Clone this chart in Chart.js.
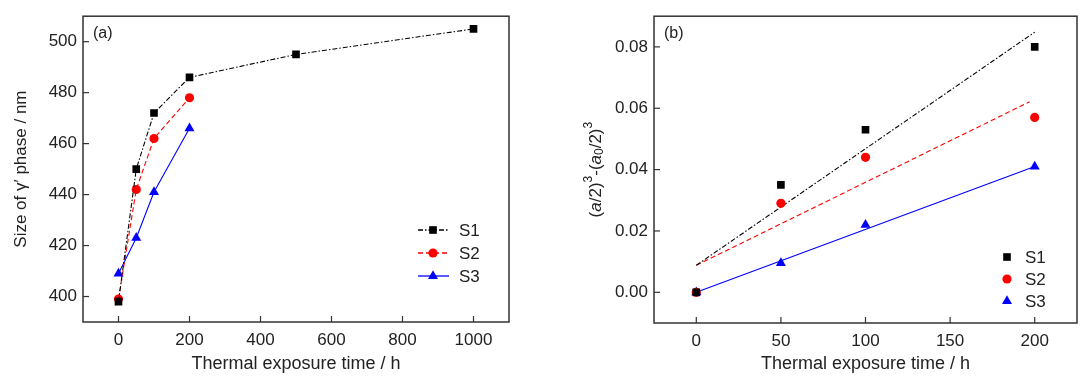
<!DOCTYPE html>
<html>
<head>
<meta charset="utf-8">
<script src="https://cdn.jsdelivr.net/npm/chart.js@4.4.1/dist/chart.umd.min.js"></script>
<style>
  html,body{margin:0;padding:0;background:#fff;}
  #wrap{position:relative;width:1085px;height:380px;overflow:hidden;}
  .panel{position:absolute;top:0;height:380px;}
</style>
</head>
<body>
<div id="wrap">
  <div class="panel" style="left:0;width:525px;"><canvas id="cA"></canvas></div>
  <div class="panel" style="left:555px;width:530px;"><canvas id="cB"></canvas></div>
</div>
<script>
// ---------- data: panel (a) ----------
const xA1 = [0, 50, 100, 200, 500, 1000];
const s1A = [398, 450, 472, 486, 495, 505];
const xA23 = [0, 50, 100, 200];
const s2A = [399, 442, 462, 478];
const s3A = [409, 423, 441, 466];
const xTicksA = [0, 200, 400, 600, 800, 1000];
const yTicksA = [400, 420, 440, 460, 480, 500];

// ---------- data: panel (b) ----------
const xB = [0, 50, 100, 200];
const s1B = [0, 0.035, 0.053, 0.080];
const s2B = [0, 0.029, 0.044, 0.057];
const s3B = [0, 0.0095, 0.022, 0.041];
const fit1X = [0, 200];
const fit1 = [0.0088, 0.0848];
const fit2X = [0, 197];
const fit2 = [0.0088, 0.0621];
const fit3X = [0, 200];
const fit3 = [0, 0.041];
const xTicksB = [0, 50, 100, 150, 200];
const yTicksB = [0, 0.02, 0.04, 0.06, 0.08];

const seriesNames = ['S1', 'S2', 'S3'];
const colors = ['#000000', '#ff0000', '#0000ff'];
const dashes = [[5, 2, 1.5, 2], [5, 3], []];
const shapes = ['rect', 'circle', 'triangle'];
const radii = [5.4, 4.6, 5.8];

const FONT = "'Liberation Sans', Arial, sans-serif";
const TXT = '#222';

function pts(xs, ys) { return xs.map((x, i) => ({x: x, y: ys[i]})); }

// frame + inward ticks + panel label + legend
function makePlugin(panelLabel, legendCfg) {
  return {
    id: 'deco',
    afterDraw(chart) {
      const ctx = chart.ctx, a = chart.chartArea;
      const xs = chart.scales.x, ys = chart.scales.y;
      ctx.save();
      ctx.strokeStyle = '#333';
      ctx.lineWidth = 1.5;
      ctx.setLineDash([]);
      ctx.strokeRect(a.left, a.top, a.right - a.left, a.bottom - a.top);
      ctx.lineWidth = 1.2;
      const tl = 6;
      xs.ticks.forEach(t => {
        const px = xs.getPixelForValue(t.value);
        ctx.beginPath(); ctx.moveTo(px, a.bottom); ctx.lineTo(px, a.bottom - tl); ctx.stroke();
      });
      ys.ticks.forEach(t => {
        const py = ys.getPixelForValue(t.value);
        ctx.beginPath(); ctx.moveTo(a.left, py); ctx.lineTo(a.left + tl, py); ctx.stroke();
      });
      // panel label
      ctx.fillStyle = TXT;
      ctx.font = '16px ' + FONT;
      ctx.textBaseline = 'middle';
      ctx.textAlign = 'left';
      ctx.fillText(panelLabel, a.left + 10, a.top + 17);
      // legend
      const L = legendCfg;
      for (let i = 0; i < 3; i++) {
        const ds = chart.data.datasets[i];
        const y = L.y0 + i * L.dy;
        if (L.withLine) {
          ctx.strokeStyle = ds.borderColor;
          ctx.lineWidth = 1.3;
          ctx.setLineDash(ds.borderDash || []);
          ctx.beginPath(); ctx.moveTo(L.lx0, y); ctx.lineTo(L.lx1, y); ctx.stroke();
          ctx.setLineDash([]);
        }
        drawMarker(ctx, ds.pointStyle, L.mx, y, ds.pointRadius, ds.backgroundColor);
        ctx.fillStyle = TXT;
        ctx.font = '17px ' + FONT;
        ctx.textAlign = 'left';
        ctx.fillText(ds.label, L.tx, y + 1);
      }
      ctx.restore();
    }
  };
}

function drawMarker(ctx, style, x, y, r, color) {
  ctx.save();
  ctx.fillStyle = color;
  ctx.beginPath();
  if (style === 'rect') {
    const s = Math.SQRT1_2 * r;
    ctx.rect(x - s, y - s, 2 * s, 2 * s);
  } else if (style === 'circle') {
    ctx.arc(x, y, r, 0, Math.PI * 2);
  } else {
    ctx.moveTo(x, y - r);
    ctx.lineTo(x + r * Math.cos(Math.PI / 6), y + r / 2);
    ctx.lineTo(x - r * Math.cos(Math.PI / 6), y + r / 2);
    ctx.closePath();
  }
  ctx.fill();
  ctx.restore();
}

// rich y title for panel (b)
const richTitle = {
  id: 'richTitle',
  afterDraw(chart) {
    const ctx = chart.ctx, a = chart.chartArea;
    const parts = [
      ['(', 'n'], ['a', 'i'], ['/2)', 'n'], ['3', 'sup'], ['-(', 'n'], ['a', 'i'], ['0', 'sub'], ['/2)', 'n'], ['3', 'sup']
    ];
    const fontOf = k => k === 'i' ? 'italic 17px ' + FONT : (k === 'n' ? '17px ' + FONT : '12px ' + FONT);
    ctx.save();
    let total = 0;
    parts.forEach(p => { ctx.font = fontOf(p[1]); total += ctx.measureText(p[0]).width; });
    ctx.translate(41, (a.top + a.bottom) / 2);
    ctx.rotate(-Math.PI / 2);
    ctx.fillStyle = TXT;
    ctx.textBaseline = 'middle';
    ctx.textAlign = 'left';
    let x = -total / 2;
    parts.forEach(p => {
      ctx.font = fontOf(p[1]);
      const dy = p[1] === 'sup' ? -7 : (p[1] === 'sub' ? 4 : 0);
      ctx.fillText(p[0], x, dy);
      x += ctx.measureText(p[0]).width;
    });
    ctx.restore();
  }
};

function baseDs(i, data, showLine) {
  return {
    label: seriesNames[i],
    data: data,
    borderColor: colors[i],
    backgroundColor: colors[i],
    borderWidth: 1.1,
    borderDash: dashes[i],
    pointStyle: shapes[i],
    pointRadius: radii[i],
    pointHoverRadius: radii[i],
    pointBorderWidth: 0,
    showLine: showLine,
    order: 1
  };
}
function fitDs(i, data) {
  return {
    label: seriesNames[i] + ' fit',
    data: data,
    borderColor: colors[i],
    backgroundColor: colors[i],
    borderWidth: 1.1,
    borderDash: dashes[i],
    pointRadius: 0,
    showLine: true,
    order: 5
  };
}

function axisCfg(min, max, ticksArr, fmt, fixSize, horiz, titleText, titlePad, titleSize) {
  return {
    type: 'linear',
    min: min, max: max,
    afterBuildTicks: s => { s.ticks = ticksArr.map(v => ({value: v})); },
    afterFit: s => { if (horiz) s.height = fixSize; else s.width = fixSize; },
    grid: {display: false, drawTicks: false},
    border: {display: false},
    ticks: {
      color: TXT, font: {family: FONT, size: 17}, padding: horiz ? 8 : 6,
      callback: v => fmt(v), maxRotation: 0, autoSkip: false
    },
    title: titleText ? {display: true, text: titleText, color: TXT, font: {family: FONT, size: titleSize}, padding: titlePad} : {display: false}
  };
}

Chart.defaults.animation = false;

new Chart(document.getElementById('cA'), {
  type: 'scatter',
  data: {
    datasets: [
      baseDs(0, pts(xA1, s1A), true),
      baseDs(1, pts(xA23, s2A), true),
      baseDs(2, pts(xA23, s3A), true)
    ]
  },
  options: {
    responsive: true, maintainAspectRatio: false, animation: false,
    layout: {padding: {left: 0, top: 7, right: 16, bottom: 0}},
    plugins: {legend: {display: false}, tooltip: {enabled: false}},
    scales: {
      x: axisCfg(-100, 1100, xTicksA, v => String(v), 58, true, 'Thermal exposure time / h', {top: 0, bottom: 5}, 18),
      y: axisCfg(390, 510, yTicksA, v => String(v), 83, false, 'Size of γ′ phase / nm', {top: 11, bottom: 0}, 17)
    }
  },
  plugins: [makePlugin('(a)', {withLine: true, y0: 230, dy: 23, lx0: 418, lx1: 449, mx: 433, tx: 459})]
});

new Chart(document.getElementById('cB'), {
  type: 'scatter',
  data: {
    datasets: [
      baseDs(0, pts(xB, s1B), false),
      baseDs(1, pts(xB, s2B), false),
      baseDs(2, pts(xB, s3B), false),
      fitDs(0, pts(fit1X, fit1)),
      fitDs(1, pts(fit2X, fit2)),
      fitDs(2, pts(fit3X, fit3))
    ]
  },
  options: {
    responsive: true, maintainAspectRatio: false, animation: false,
    layout: {padding: {left: 0, top: 7, right: 8, bottom: 0}},
    plugins: {legend: {display: false}, tooltip: {enabled: false}},
    scales: {
      x: axisCfg(-25, 225, xTicksB, v => String(v), 57, true, 'Thermal exposure time / h', {top: 0, bottom: 5}, 18),
      y: axisCfg(-0.01, 0.09, yTicksB, v => Number(v).toFixed(2), 99, false, null, null, 17)
    }
  },
  plugins: [makePlugin('(b)', {withLine: false, y0: 257, dy: 22, mx: 1007 - 555, tx: 1025 - 555}), richTitle]
});
</script>
</body>
</html>
